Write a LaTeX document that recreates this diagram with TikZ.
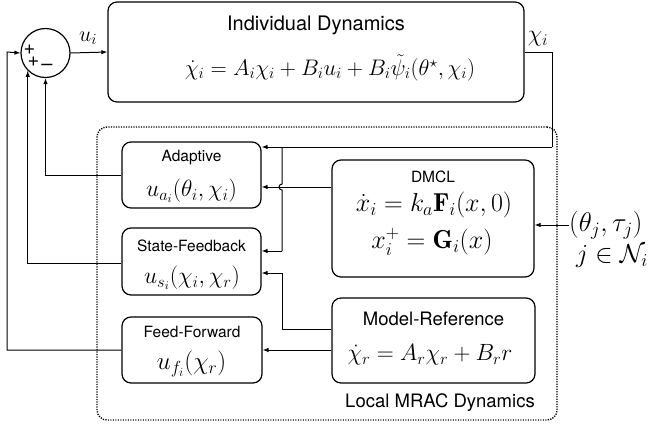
\RequirePackage{fix-cm}
\documentclass[tikz,border=0pt]{standalone}
\usepackage{fontspec}
\setsansfont{TeX Gyre Heros}
\usepackage{amsmath,amssymb}
\usetikzlibrary{arrows.meta,calc}
\begin{document}
\begin{tikzpicture}[x=1bp,y=-1bp,
  box/.style={draw, line width=1.2bp, rounded corners=9bp, inner sep=0pt, anchor=center},
  ttl/.style={font=\sffamily\fontsize{15.5bp}{18bp}\selectfont, inner sep=0pt},
  bigttl/.style={font=\sffamily\fontsize{18.5bp}{21bp}\selectfont, inner sep=0pt},
  eqn/.style={font=\fontsize{23.5bp}{27bp}\selectfont, inner sep=0pt},
  conn/.style={line width=1bp},
  arr/.style={conn, -{Latex[length=6bp,width=4.5bp]}},
  sgn/.style={font=\sffamily\fontsize{20bp}{22bp}\selectfont, inner sep=0pt}
]
\useasboundingbox (0,0) rectangle (648,427);

% summing junction
\node[draw, circle, line width=1.2bp, minimum size=49bp, inner sep=0pt] (sum) at (45.5,53) {};
\node[sgn] (s1) at (29.5,50) {+};
\node[sgn] (s2) at (33.5,62) {+};
\node[sgn] (s3) at (47,67) {--};

% individual dynamics
\node[box, minimum width=416bp, minimum height=100bp] (ind) at (316,52) {};
\node[ttl, font=\sffamily\fontsize{20bp}{22bp}\selectfont] (indT) at (316,25) {Individual Dynamics};
\node[eqn, font=\fontsize{22.5bp}{26bp}\selectfont] (indE) at (330,68) {$\dot{\chi}_i = A_i\chi_i + B_iu_i + B_i\tilde{\psi}_i(\theta^\star,\chi_i)$};

% local MRAC frame
\node[draw, line width=1.4bp, dash pattern=on 1.2bp off 1.3bp, rounded corners=10bp,
      minimum width=460bp, minimum height=293bp, inner sep=0pt] (mrac) at (327,273.5) {};
\node[bigttl] (mracT) at (440,403) {Local MRAC Dynamics};

% adaptive
\node[box, minimum width=139bp, minimum height=66bp] (adapt) at (191.5,175) {};
\node[ttl] (adaptT) at (191.5,158) {Adaptive};
\node[eqn] (adaptE) at (191.5,191) {$u_{a_i}(\theta_i,\chi_i)$};

% state feedback
\node[box, minimum width=139bp, minimum height=67bp] (sf) at (191.5,261.5) {};
\node[ttl] (sfT) at (191.5,246) {State-Feedback};
\node[eqn] (sfE) at (192,278) {$u_{s_i}(\chi_i,\chi_r)$};

% feed forward
\node[box, minimum width=140bp, minimum height=66bp] (ff) at (192,350) {};
\node[ttl] (ffT) at (192,332) {Feed-Forward};
\node[eqn, font=\fontsize{25bp}{28bp}\selectfont] (ffE) at (191.5,364) {$u_{f_i}(\chi_r)$};

% DMCL
\node[box, minimum width=202bp, minimum height=117bp] (dmcl) at (433,218.5) {};
\node[ttl] (dmclT) at (433,177) {DMCL};
\node[eqn, font=\fontsize{26bp}{29bp}\selectfont] (dmclE1) at (434,205) {$\dot{x}_i = k_a\mathbf{F}_i(x,0)$};
\node[eqn, font=\fontsize{26bp}{29bp}\selectfont] (dmclE2) at (432,242) {$x_i^+ = \mathbf{G}_i(x)$};

% model reference
\node[box, minimum width=203bp, minimum height=85bp] (mr) at (433.5,340.5) {};
\node[bigttl] (mrT) at (433.5,319) {Model-Reference};
\node[eqn] (mrE) at (430,355) {$\dot{\chi}_r = A_r\chi_r + B_r r$};

% neighbour input
\node[eqn, anchor=west, font=\fontsize{27bp}{30bp}\selectfont] (nb) at (569,225) {$(\theta_j,\tau_j)$};
\node[eqn, font=\fontsize{26bp}{29bp}\selectfont] (nbset) at (612,256) {$j\in\mathcal{N}_i$};

% signal labels
\node[eqn, font=\fontsize{22bp}{25bp}\selectfont] (ulbl) at (88,38) {$u_i$};
\node[eqn] (chilbl) at (538,39) {$\chi_i$};

% coordinates
\coordinate (chiR) at (552,147);
\coordinate (brTop) at (282,147);
\coordinate (brBot) at (282,251);
\coordinate (ffL) at (7,52);

% connectors
\draw[arr] (sum.east) -- (ind.west);
\draw[conn] (ind.east) -| (chiR);
\draw[arr] (chiR) -- (adapt.east |- chiR);
\draw[conn] (brTop) -- (282,184) arc[start angle=-90, end angle=-270, radius=3] -- (brBot);
\draw[arr] (brBot) -- (sf.east |- brBot);
\draw[arr] (dmcl.west |- 0,187) -- (adapt.east |- 0,187);
\draw[arr] (mr.west |- 0,329) -| (282,273) -- (sf.east |- 0,273);
\draw[arr] (mr.west |- 0,350) -- (ff.east |- 0,350);
\draw[arr] (nb.west) -- (dmcl.east |- nb.west);
\draw[arr] (adapt.west) -| (sum.south);
\draw[arr] (sf.west |- 0,263) -| (sum.south west);
\draw[arr] (ff.west) -| (ffL) -- (sum.west);
\end{tikzpicture}
\end{document}
